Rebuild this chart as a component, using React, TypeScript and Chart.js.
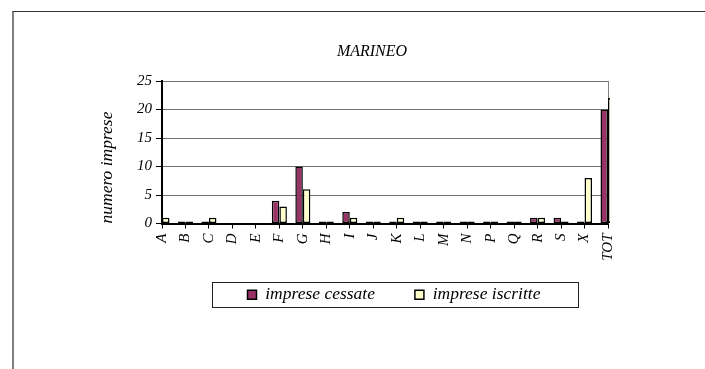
import React, { useEffect, useRef } from 'react';
import { Chart, registerables } from 'chart.js';

Chart.register(...registerables);

// ---- data ----
const categories = ['A', 'B', 'C', 'D', 'E', 'F', 'G', 'H', 'I', 'J', 'K', 'L', 'M', 'N', 'P', 'Q', 'R', 'S', 'X', 'TOT'];
const impreseCessate = [2, 0, 0, null, null, 4, 10, 0, 2, 0, 0, 0, 0, 0, 0, 0, 1, 1, 0, 20];
const impreseIscritte = [1, 0, 1, null, null, 3, 6, 0, 1, 0, 1, 0, 0, 0, 0, 0, 1, 0, 8, 22];
const seriesNames = ['imprese cessate', 'imprese iscritte'];
const chartTitle = 'MARINEO';
const yAxisTitle = 'numero imprese';
const yMin = 0;
const yMax = 25;
const yStep = 5;

const FONT = 'Liberation Serif';
const LEGEND_PADDING = 40;
const LEGEND_FIRST_X = 247.5;

const placement = {
  id: 'placement',
  afterLayout(chart: any) {
    const t = chart.titleBlock;
    if (t) {
      t.left = 136;
      t.right = 608;
    }
    const l = chart.legend;
    if (l) {
      const h = l.bottom - l.top;
      const lw = (l.lineWidths && l.lineWidths[0]) || 330;
      const right = 700;
      l.right = right;
      l.left = 2 * LEGEND_FIRST_X - LEGEND_PADDING - right + lw;
      l.top = 246;
      l.bottom = 246 + h;
    }
  },
  beforeDatasetsDraw(chart: any) {
    const { ctx, chartArea } = chart;
    ctx.save();
    ctx.strokeStyle = '#808080';
    ctx.lineWidth = 1;
    ctx.beginPath();
    ctx.moveTo(Math.round(chartArea.right) + 0.5, chartArea.top);
    ctx.lineTo(Math.round(chartArea.right) + 0.5, chartArea.bottom);
    ctx.stroke();
    ctx.restore();
  },
  afterDraw(chart: any) {
    const { ctx } = chart;
    ctx.save();
    ctx.strokeStyle = '#222';
    ctx.lineWidth = 1;
    ctx.strokeRect(212.5, 282.5, 366, 25);
    ctx.restore();
  },
};

export default function App() {
  const canvasRef = useRef<HTMLCanvasElement | null>(null);

  useEffect(() => {
    const canvas = canvasRef.current;
    if (!canvas) return;
    const clip = { left: 1, right: 2, top: 0, bottom: 1 };
    const chart = new Chart(canvas, {
      type: 'bar',
      data: {
        labels: categories,
        datasets: [
          {
            label: seriesNames[0],
            data: impreseCessate,
            backgroundColor: '#993366',
            borderColor: '#000000',
            borderWidth: 1.5,
            borderSkipped: false,
            minBarLength: 2,
            clip,
          } as any,
          {
            label: seriesNames[1],
            data: impreseIscritte,
            backgroundColor: '#FFFFCC',
            borderColor: '#000000',
            borderWidth: 1.5,
            borderSkipped: false,
            minBarLength: 2,
            clip,
          } as any,
        ],
      },
      options: {
        animation: false,
        responsive: false,
        maintainAspectRatio: false,
        layout: { padding: { left: 0, right: 97, top: 0, bottom: 26 } },
        datasets: {
          bar: { categoryPercentage: 0.64, barPercentage: 1 },
        },
        plugins: {
          title: {
            display: true,
            text: chartTitle,
            color: '#000',
            font: { family: FONT, style: 'italic', size: 16, weight: 'normal', lineHeight: 1.2 },
            padding: { top: 42.4, bottom: 19.4 },
          },
          legend: {
            display: true,
            position: 'bottom',
            labels: {
              color: '#000',
              font: { family: FONT, style: 'italic', size: 17.5 },
              boxWidth: 9,
              boxHeight: 9,
              padding: LEGEND_PADDING,
            },
          },
          tooltip: { enabled: false },
        },
        scales: {
          x: {
            offset: false,
            grid: {
              offset: false,
              drawOnChartArea: false,
              drawTicks: true,
              tickLength: 5,
              tickColor: '#000',
            },
            border: { display: true, color: '#000', width: 2 },
            ticks: {
              autoSkip: false,
              maxRotation: 90,
              minRotation: 90,
              padding: 5,
              color: '#000',
              font: { family: FONT, style: 'italic', size: 15 },
            },
            afterFit(scale: any) {
              scale.height = 52;
            },
          },
          y: {
            min: yMin,
            max: yMax,
            grid: {
              color: '#707070',
              lineWidth: 1,
              drawTicks: true,
              tickLength: 6,
              tickColor: '#000',
            },
            border: { display: true, color: '#000', width: 2 },
            ticks: {
              stepSize: yStep,
              padding: 4,
              color: '#000',
              font: { family: FONT, style: 'italic', size: 15 },
            },
            title: {
              display: true,
              text: yAxisTitle,
              align: 'start',
              color: '#000',
              font: { family: FONT, style: 'italic', size: 17.5 },
              padding: { top: 97, bottom: 0 },
            },
            afterFit(scale: any) {
              scale.width = 162;
            },
          },
        },
      } as any,
      plugins: [placement],
    });
    return () => chart.destroy();
  }, []);

  return (
    <div style={{ position: 'fixed', left: 0, top: 0, width: 705, height: 369, overflow: 'hidden', background: '#fff' }}>
      <div
        style={{
          position: 'absolute',
          left: 12,
          top: 11,
          width: 800,
          height: 500,
          borderTop: '1px solid #333',
          borderLeft: '2px solid #808080',
        }}
      />
      <canvas ref={canvasRef} width={705} height={369} style={{ position: 'absolute', left: 0, top: 0 }} />
    </div>
  );
}
